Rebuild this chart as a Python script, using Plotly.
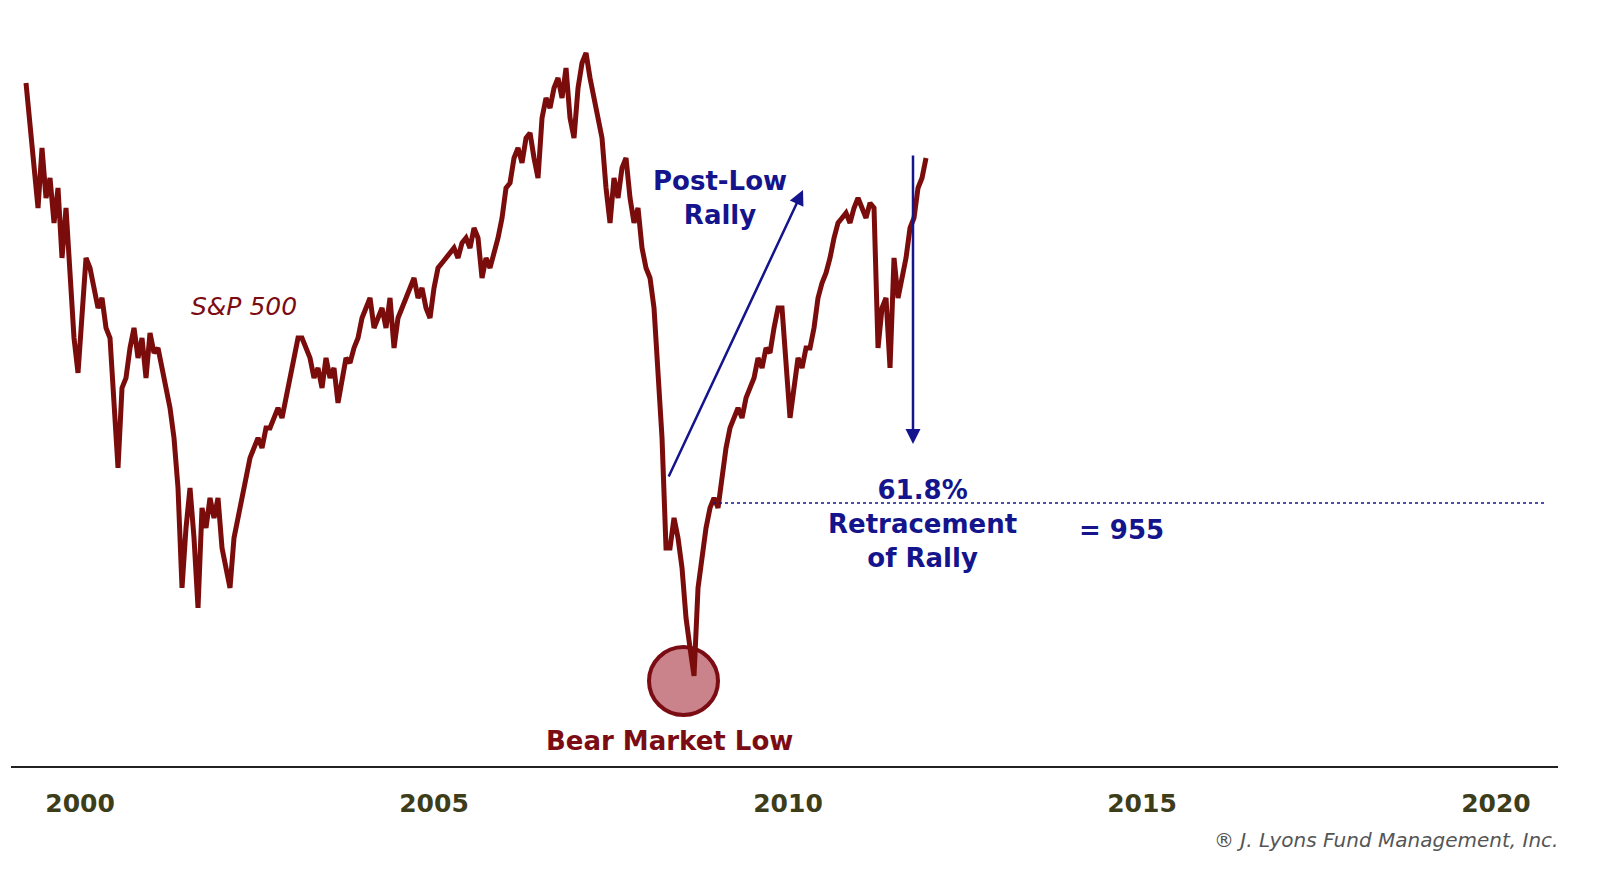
import plotly.graph_objects as go

# S&P 500 (stylized) sampled every ~3 weeks, from early 1999 to late 2011 (chart years)
start_year = 1999.237
step_year = 0.0565
values = [1627,1555,1491,1427,1523,1443,1475,1403,1459,1347,1427,1315,1219,1163,1267,1347,1331,1299,1267,1283,1235,1219,1107,1011,1139,1155,
1203,1235,1187,1219,1155,1227,1195,1203,1171,1139,1107,1059,979,819,915,979,899,787,947,915,963,931,963,883,851,819,899,931,963,995,1027,1043,1059,1043,1075,1075,1091,1107,1091,1123,1155,1187,1219,1219,1203,1187,1155,1171,1139,1187,1155,1171,1115,1155,1187,1179,1203,1219,1251,1267,1283,1235,1251,1267,1235,1283,1203,1251,1267,1283,1299,1315,1283,1299,1267,1251,1299,1331,1339,1347,1355,1363,1347,1371,1379,1363,1395,1379,1315,1347,1331,1355,1379,1411,1459,1467,1507,1523,1499,1539,1547,1507,1475,1571,1603,1587,1619,1635,1603,1651,1571,1539,1619,1659,1675,1635,1603,1571,1539,1459,1403,1475,1443,1491,1507,1443,1403,1427,1363,1331,1315,1267,1171,1059,883,883,931,899,851,771,723,678,819,867,915,947,963,947,995,1043,1075,1091,1107,1091,1123,1139,1155,1187,1171,1203,1195,1235,1267,1267,1187,1091,1139,1187,1171,1203,1203,1235,1283,1307,1323,1347,1379,1403,1411,1419,1403,1427,1443,1427,1411,1435,1427,1203,1267,1283,1171,1347,1283,1315,1347,1395,1411,1459,1475,1507]
dates = [start_year + i*step_year for i in range(len(values))]
tick_years = [2000, 2005, 2010, 2015, 2020]
retrace_level = 955

L, R, PB = 3, 63, 117
W, H = 1613, 875
PW = W - L - R
PH = H - PB
def px(x): return (x - L) / PW
def py(y): return (PH - y) / PH

NAVY = "#14148c"
RED = "#7b0c14"
FONT = "DejaVu Sans"

fig = go.Figure()
fig.add_trace(go.Scatter(x=dates, y=values, mode="lines",
                         line=dict(color="#7b0c0c", width=5), hoverinfo="skip"))

fig.update_layout(
    width=W, height=H, margin=dict(l=L, r=R, t=0, b=PB),
    paper_bgcolor="white", plot_bgcolor="white", showlegend=False,
    xaxis=dict(range=[1999.025, 2020.876], tickvals=tick_years, ticktext=[str(t) for t in tick_years],
               showgrid=False, zeroline=False, showline=True, linecolor="#222", linewidth=2,
               ticks="", ticklabelstandoff=14,
               tickfont=dict(family=FONT, size=25, color="#3d3d1a", weight="bold")),
    yaxis=dict(range=[534, 1747], visible=False, showgrid=False),
)

fig.add_shape(type="line", xref="paper", yref="y", x0=px(705), x1=px(1537),
              y0=retrace_level, y1=retrace_level, line=dict(color=NAVY, width=1.5, dash="dot"))
fig.add_shape(type="circle", xref="paper", yref="paper", x0=px(641), x1=px(710), y0=py(707), y1=py(639),
              fillcolor="rgba(185,90,100,0.75)", line=dict(color=RED, width=4), layer="below")

def txt(x, y, t, size, color, bold=True, italic=False, xanchor="center"):
    fig.add_annotation(x=px(x), y=py(y), xref="paper", yref="paper", text=t, showarrow=False,
                       xanchor=xanchor, yanchor="middle",
                       font=dict(family=FONT, size=size, color=color, weight="bold" if bold else "normal",
                                 style="italic" if italic else "normal"))

txt(236, 298, "S&amp;P 500", 25, "#7b0c14", bold=False, italic=True)
txt(712, 190, "Post-Low<br>Rally", 26, NAVY)
txt(914, 516, "61.8%<br>Retracement<br>of Rally", 26, NAVY)
txt(1113, 522, "= 955", 26, NAVY)
txt(661, 733, "Bear Market Low", 26, RED)
txt(1552, 832, "® J. Lyons Fund Management, Inc.", 20, "#555555", bold=False, italic=True, xanchor="right")

fig.add_annotation(x=px(795), y=py(182), xref="paper", yref="paper", ax=-135, ay=288,
                   showarrow=True, arrowhead=2, arrowsize=1.2, arrowwidth=2.5, arrowcolor=NAVY, text="")
fig.add_annotation(x=px(905), y=py(436), xref="paper", yref="paper", ax=0, ay=-290,
                   showarrow=True, arrowhead=2, arrowsize=1.2, arrowwidth=2.5, arrowcolor=NAVY, text="")

fig.write_html("out.html")
